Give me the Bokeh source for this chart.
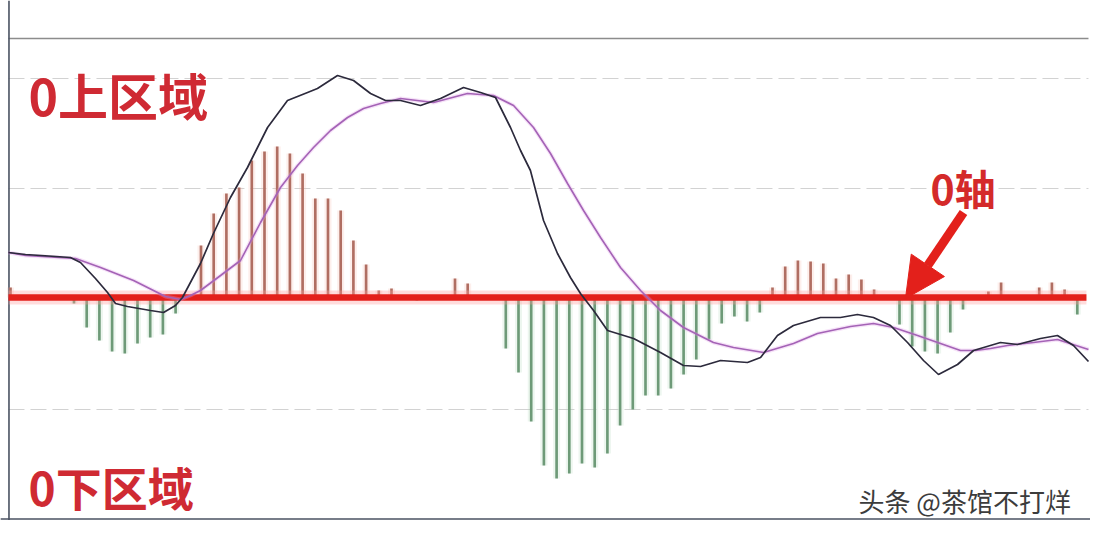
from bokeh.plotting import figure
from bokeh.models import Range1d, Label, Arrow, NormalHead, ColumnDataSource
from bokeh.embed import file_html
from bokeh.resources import INLINE

# ---------------- data ----------------
hist_values = [
    0.10, 0, 0, 0, 0, -0.06, -0.30, -0.43, -0.54, -0.56,
    -0.46, -0.40, -0.37, -0.16, 0, 0.52, 0.84, 1.04, 1.10, 1.37,
    1.46, 1.51, 1.44, 1.24, 0.99, 0.99, 0.87, 0.57, 0.33, 0.07,
    0.09, 0, -0.03, 0, 0, 0.19, 0.14, 0, 0, -0.51,
    -0.75, -1.24, -1.68, -1.81, -1.76, -1.66, -1.70, -1.56, -1.28, -1.12,
    -0.98, -0.98, -0.91, -0.77, -0.62, -0.42, -0.26, -0.19, -0.24, -0.15,
    0.10, 0.31, 0.37, 0.36, 0.34, 0.19, 0.23, 0.18, 0.08, 0,
    -0.27, -0.49, -0.54, -0.56, -0.35, -0.12, 0, 0.06, 0.15, 0,
    0, 0.10, 0.15, 0.08, -0.17,
]
hist_index = list(range(len(hist_values)))

dif_x = [-0.16, 1.18, 4.72, 5.51, 6.69, 7.64, 8.27, 9.21, 11.02, 12.05,
         12.99, 13.54, 14.96, 15.98, 17.32, 18.66, 20.24, 21.81, 23.39, 24.17,
         25.75, 27.01, 28.35, 29.53, 30.71, 32.28, 33.86, 35.67, 37.01, 38.19,
         39.37, 40.16, 40.94, 41.97, 43.07, 44.09, 44.88, 45.91, 47.01, 49.06,
         51.18, 52.99, 54.33, 55.91, 58.03, 59.06, 60.39, 61.65, 63.78, 65.35,
         66.69, 67.95, 69.29, 70.63, 71.89, 73.07, 74.57, 75.83, 77.95, 79.29,
         81.10, 82.44, 83.70, 84.88]
dif_y = [0.45, 0.43, 0.40, 0.35, 0.19, 0.05, -0.06, -0.09, -0.13, -0.15,
         -0.08, 0.00, 0.34, 0.64, 1.00, 1.30, 1.70, 1.97, 2.05, 2.09,
         2.22, 2.17, 2.04, 1.97, 1.97, 1.92, 1.99, 2.10, 2.05, 2.00,
         1.70, 1.47, 1.27, 0.77, 0.44, 0.20, 0.04, -0.13, -0.33, -0.41,
         -0.55, -0.68, -0.69, -0.63, -0.65, -0.60, -0.38, -0.28, -0.20, -0.20,
         -0.17, -0.20, -0.28, -0.45, -0.63, -0.77, -0.67, -0.53, -0.45, -0.47,
         -0.41, -0.38, -0.48, -0.64]

dea_x = [-0.16, 1.18, 5.12, 7.09, 9.69, 11.26, 12.20, 13.39, 14.17, 14.96,
         16.54, 18.11, 19.69, 21.26, 22.60, 23.86, 25.20, 26.54, 27.80, 29.13,
         30.71, 33.31, 35.98, 38.03, 39.61, 41.18, 42.52, 43.86, 45.12, 46.46,
         48.03, 49.61, 51.18, 52.99, 55.35, 56.93, 59.29, 61.65, 63.54, 66.14,
         67.95, 69.53, 71.42, 73.23, 74.80, 75.98, 77.17, 78.50, 80.55, 82.44,
         84.88]
dea_y = [0.45, 0.42, 0.39, 0.30, 0.17, 0.07, 0.01, -0.02, 0.02, 0.07,
         0.22, 0.37, 0.75, 1.10, 1.32, 1.50, 1.67, 1.80, 1.89, 1.94,
         1.99, 1.95, 2.04, 2.02, 1.92, 1.70, 1.44, 1.14, 0.87, 0.60,
         0.30, 0.07, -0.13, -0.30, -0.45, -0.50, -0.55, -0.46, -0.36, -0.29,
         -0.26, -0.30, -0.38, -0.46, -0.53, -0.53, -0.51, -0.48, -0.45, -0.42,
         -0.52]

grid_levels = [2.19, 1.09, -1.12]
top_level = 2.59
x_first, x_last = -0.16, 84.88
zero_end = 84.72

label_up = "0上区域"
label_down = "0下区域"
label_axis = "0轴"
watermark = "头条 @茶馆不打烊"

# ---------------- figure ----------------
p = figure(width=1090, height=520, output_backend="svg", toolbar_location=None,
           x_range=Range1d(-10 / 12.7, 1080 / 12.7), y_range=Range1d(-2.23, 2.97),
           x_axis_location=None, y_axis_location=None,
           min_border=0, min_border_left=0, min_border_right=0,
           min_border_top=0, min_border_bottom=0)
p.outline_line_color = None
p.grid.visible = False
p.background_fill_color = "#ffffff"
p.border_fill_color = "#ffffff"

# frame lines
p.segment(x0=[x_first], y0=[top_level], x1=[x_last], y1=[top_level],
          line_color="#8c8c8c", line_width=1.6)
p.segment(x0=[x_first] * len(grid_levels), y0=grid_levels,
          x1=[x_last] * len(grid_levels), y1=grid_levels,
          line_color="#d2d2d2", line_width=1.2, line_dash="16 6")
p.segment(x0=[-0.12], y0=[2.97], x1=[-0.12], y1=[-2.23], line_color="#4a5262", line_width=1.6)
p.segment(x0=[-0.8], y0=[-2.215], x1=[85.1], y1=[-2.215], line_color="#4a5262", line_width=1.6)

# histogram
up_src = ColumnDataSource(dict(x=[i for i, v in zip(hist_index, hist_values) if v > 0],
                               top=[v for v in hist_values if v > 0]))
dn_src = ColumnDataSource(dict(x=[i for i, v in zip(hist_index, hist_values) if v < 0],
                               top=[v for v in hist_values if v < 0]))
p.vbar(x="x", top="top", bottom=0, width=0.55, source=up_src,
       fill_color="#f4b8a8", fill_alpha=0.22, line_color=None)
p.vbar(x="x", top="top", bottom=0, width=0.55, source=dn_src,
       fill_color="#b8dcc0", fill_alpha=0.25, line_color=None)
p.vbar(x="x", top="top", bottom=0, width=0.21, source=up_src,
       fill_color="#b06e62", line_color=None)
p.vbar(x="x", top="top", bottom=0, width=0.21, source=dn_src,
       fill_color="#6e9a78", line_color=None)

# zero axis
p.segment(x0=[x_first], y0=[0], x1=[zero_end], y1=[0], line_color="#ff9c9c",
          line_width=14, line_alpha=0.35)
p.segment(x0=[x_first], y0=[0], x1=[zero_end], y1=[0], line_color="#e3201b",
          line_width=6.5)

# DIF / DEA lines
p.line(dea_x, dea_y, line_color="#e0a0e8", line_width=4, line_alpha=0.3)
p.line(dea_x, dea_y, line_color="#a463b6", line_width=1.6)
p.line(dif_x, dif_y, line_color="#2c2a3c", line_width=1.7)

# arrow
p.add_layout(Arrow(end=NormalHead(size=40, fill_color="#e3201b", line_color="#e3201b"),
                   x_start=75.04, y_start=0.85, x_end=70.47, y_end=-0.01,
                   line_color="#e3201b", line_width=9))

# labels
font = "Noto Sans CJK SC"
p.add_layout(Label(x=1.42, y=2.04, text=label_up, text_font=font, text_font_style="bold",
                   text_font_size="50px", text_color="#cf2a33", text_baseline="middle"))
p.add_layout(Label(x=1.42, y=-1.88, text=label_down, text_font=font, text_font_style="bold",
                   text_font_size="46px", text_color="#cf2a33", text_baseline="middle"))
p.add_layout(Label(x=72.44, y=1.11, text=label_axis, text_font=font, text_font_style="bold",
                   text_font_size="41px", text_color="#d42a2a", text_baseline="middle"))
p.add_layout(Label(x=66.77, y=-2.03, text=watermark, text_font=font,
                   text_font_size="26px", text_color="#3c3c3c", text_baseline="middle"))

open("out.html", "w").write(file_html(p, INLINE))
